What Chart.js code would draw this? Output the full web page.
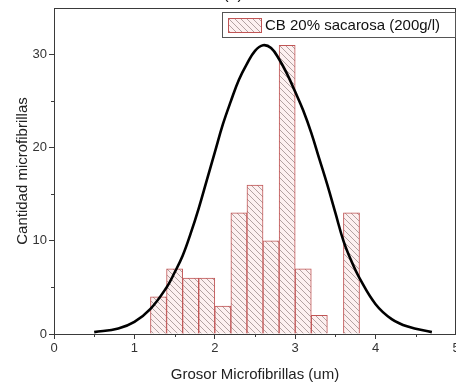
<!DOCTYPE html>
<html>
<head>
<meta charset="utf-8">
<script src="https://cdn.jsdelivr.net/npm/chart.js@4.4.1/dist/chart.umd.min.js"></script>
<style>
  html, body { margin: 0; padding: 0; background: #fff; overflow: hidden; }
  canvas { display: block; }
</style>
</head>
<body>
<canvas id="chart" width="456" height="388"></canvas>
<script>
// histogram bins (centres) and counts
var binCenters = [1.3, 1.5, 1.7, 1.9, 2.1, 2.3, 2.5, 2.7, 2.9, 3.1, 3.3, 3.5, 3.7];
var counts     = [4,   7,   6,   6,   3,   13,  16,  10,  31,  7,   2,   0,   13];

// normal fit curve
var curveX = [0.5, 0.8, 1.0, 1.2, 1.4, 1.5, 1.6, 1.7, 1.8, 1.9, 2.0, 2.1, 2.2, 2.3, 2.4, 2.5, 2.6,
              2.7, 2.8, 2.9, 3.0, 3.1, 3.2, 3.3, 3.4, 3.5, 3.6, 3.7, 3.8, 4.0, 4.2, 4.4, 4.7];
var curveY = [0.2, 0.6, 1.3, 2.7, 5.0, 6.6, 8.4, 10.8, 13.5, 16.5, 19.5, 22.5, 25.0, 27.3, 29.0, 30.4, 31.0,
              30.7, 29.5, 27.9, 26.0, 24.0, 21.6, 18.8, 16.0, 13.0, 10.0, 7.8, 6.0, 3.2, 1.6, 0.8, 0.2];

var xTicks = [0, 1, 2, 3, 4, 5];
var yTicks = [0, 10, 20, 30];
var seriesLabel = "CB 20% sacarosa (200g/l)";

function hatch() {
  var c = document.createElement("canvas");
  c.width = 6; c.height = 6;
  var g = c.getContext("2d");
  g.fillStyle = "#fdf0f0";
  g.fillRect(0, 0, 6, 6);
  g.strokeStyle = "rgba(100,80,80,0.7)";
  g.lineWidth = 0.7;
  g.beginPath();
  g.moveTo(-1, -1); g.lineTo(7, 7);
  g.moveTo(-1, 5); g.lineTo(1, 7);
  g.moveTo(5, -1); g.lineTo(7, 1);
  g.stroke();
  return g.createPattern(c, "repeat");
}
var pattern = hatch();

var barData = binCenters.map(function (x, i) { return { x: x, y: counts[i] }; });
var lineData = curveX.map(function (x, i) { return { x: x, y: curveY[i] }; });

// frame, minor ticks, legend box, cut-off title
var extras = {
  id: "extras",
  afterDraw: function (chart) {
    var ctx = chart.ctx, a = chart.chartArea;
    var xs = chart.scales.x, ys = chart.scales.y;
    ctx.save();
    ctx.strokeStyle = "#3a3a3a";
    ctx.lineWidth = 1;
    ctx.beginPath();
    ctx.moveTo(a.left, a.top + 0.5); ctx.lineTo(a.right, a.top + 0.5);
    ctx.moveTo(a.right - 0.5, a.top); ctx.lineTo(a.right - 0.5, a.bottom);
    // minor ticks
    [0.5, 1.5, 2.5, 3.5, 4.5].forEach(function (v) {
      var px = Math.round(xs.getPixelForValue(v)) + 0.5;
      ctx.moveTo(px, a.bottom); ctx.lineTo(px, a.bottom + 3);
    });
    [5, 15, 25].forEach(function (v) {
      var py = Math.round(ys.getPixelForValue(v)) + 0.5;
      ctx.moveTo(a.left, py); ctx.lineTo(a.left - 3, py);
    });
    ctx.stroke();

    // legend
    var lx = 222, ly = 12, lw = 233, lh = 25;
    ctx.fillStyle = "#fff";
    ctx.fillRect(lx, ly, lw, lh);
    ctx.strokeStyle = "#555";
    ctx.strokeRect(lx + 0.5, ly + 0.5, lw, lh);
    ctx.fillStyle = pattern;
    ctx.fillRect(lx + 6, ly + 6, 33, 14);
    ctx.strokeStyle = "#c05555";
    ctx.strokeRect(lx + 6.5, ly + 6.5, 33, 14);
    ctx.fillStyle = "#111";
    ctx.font = "15px 'Liberation Sans', Arial, sans-serif";
    ctx.textBaseline = "middle";
    ctx.fillText(seriesLabel, lx + 43, ly + 13.5);

    // title cut by the top edge
    ctx.textAlign = "center";
    ctx.textBaseline = "alphabetic";
    ctx.font = "16px 'Liberation Sans', Arial, sans-serif";
    ctx.fillText("(a)", 233, -1);
    ctx.restore();
  }
};

new Chart(document.getElementById("chart"), {
  data: {
    datasets: [
      {
        type: "line",
        label: "fit",
        data: lineData,
        borderColor: "#000",
        borderWidth: 2.6,
        pointRadius: 0,
        tension: 0.4,
        fill: false,
        order: 0
      },
      {
        type: "bar",
        label: seriesLabel,
        data: barData,
        backgroundColor: pattern,
        borderColor: "#c05555",
        borderWidth: 1,
        barPercentage: 1,
        categoryPercentage: 1,
        order: 1
      }
    ]
  },
  options: {
    responsive: false,
    animation: false,
    maintainAspectRatio: false,
    layout: { padding: { top: 8, right: 0, left: 0, bottom: 0 } },
    plugins: { legend: { display: false }, tooltip: { enabled: false } },
    scales: {
      x: {
        type: "linear",
        min: 0, max: 5,
        offset: false,
        afterBuildTicks: function (s) { s.ticks = xTicks.map(function (v) { return { value: v }; }); },
        afterFit: function (s) { s.height = 54; s.paddingLeft = 0; s.paddingRight = 0; },
        grid: { drawOnChartArea: false, offset: false, tickLength: 5, color: "#3a3a3a" },
        border: { color: "#3a3a3a", width: 1 },
        ticks: { color: "#333", font: { size: 13, family: "'Liberation Sans', Arial" }, padding: 2, maxRotation: 0 },
        title: { display: true, text: "Grosor Microfibrillas (um)", color: "#222",
                 font: { size: 15, family: "'Liberation Sans', Arial" }, padding: { top: 6 } }
      },
      y: {
        min: 0, max: 35,
        afterBuildTicks: function (s) { s.ticks = yTicks.map(function (v) { return { value: v }; }); },
        afterFit: function (s) { s.width = 54; s.paddingTop = 0; s.paddingBottom = 0; },
        grid: { drawOnChartArea: false, tickLength: 5, color: "#3a3a3a" },
        border: { color: "#3a3a3a", width: 1 },
        ticks: { color: "#333", font: { size: 13, family: "'Liberation Sans', Arial" }, padding: 2 },
        title: { display: true, text: "Cantidad microfibrillas", color: "#222",
                 font: { size: 15, family: "'Liberation Sans', Arial" }, padding: { top: 14, bottom: 0 } }
      }
    }
  },
  plugins: [extras]
});
</script>
</body>
</html>
